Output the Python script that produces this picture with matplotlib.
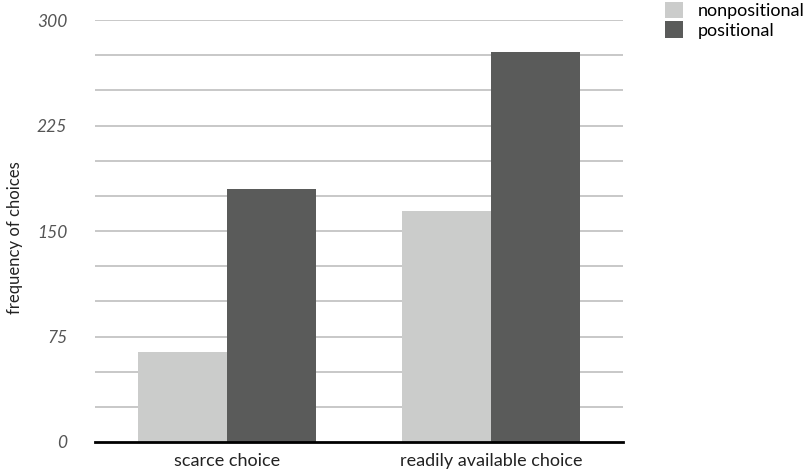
import matplotlib
matplotlib.use("Agg")
import matplotlib.pyplot as plt
import numpy as np

plt.rcParams['font.family'] = ['Lato', 'DejaVu Sans']

categories = ["scarce choice", "readily available choice"]
series_names = ["nonpositional", "positional"]
nonpositional = [64, 164]
positional = [180, 277]
yticks = [0, 75, 150, 225, 300]

colors = ["#cbcccb", "#5a5b5a"]

fig = plt.figure(figsize=(8.1, 4.76), dpi=100)
ax = fig.add_axes([95 / 810, 34 / 476, 528 / 810, 422 / 476])

x = np.arange(len(categories))
w = 0.337
ax.bar(x - w / 2, nonpositional, width=w, color=colors[0], label=series_names[0], zorder=3)
ax.bar(x + w / 2, positional, width=w, color=colors[1], label=series_names[1], zorder=3)

ax.set_xlim(-0.5, 1.5)
ax.set_ylim(0, 300)

# horizontal guides every 25 units
for yv in np.arange(25, 301, 25):
    ax.axhline(yv, color="#c4c4c4", linewidth=1.3, zorder=1)

ax.set_yticks(yticks)
ax.set_yticklabels([str(t) for t in yticks], fontstyle="italic", color="#555555", fontsize=12.5)
ax.tick_params(axis="y", length=0, pad=20)
ax.set_xticks(x)
ax.set_xticklabels(categories, fontsize=13, color="#222222")
ax.tick_params(axis="x", length=0, pad=8)

for s in ["top", "right", "left"]:
    ax.spines[s].set_visible(False)
ax.spines["bottom"].set_linewidth(2.0)
ax.spines["bottom"].set_color("black")
ax.spines["bottom"].set_zorder(4)

ax.set_ylabel("frequency of choices", fontsize=12, color="#222222")
ax.yaxis.set_label_coords(23 / 810, 0.5, transform=fig.transFigure)
ax.yaxis.label.set_y(0.5)

fig.legend(loc="upper left", bbox_to_anchor=(658 / 810, 1.012), frameon=False,
           fontsize=13, handlelength=1.0, handleheight=1.0, handletextpad=0.8,
           labelspacing=0.15, borderaxespad=0)

fig.savefig("out.png", dpi=100)
